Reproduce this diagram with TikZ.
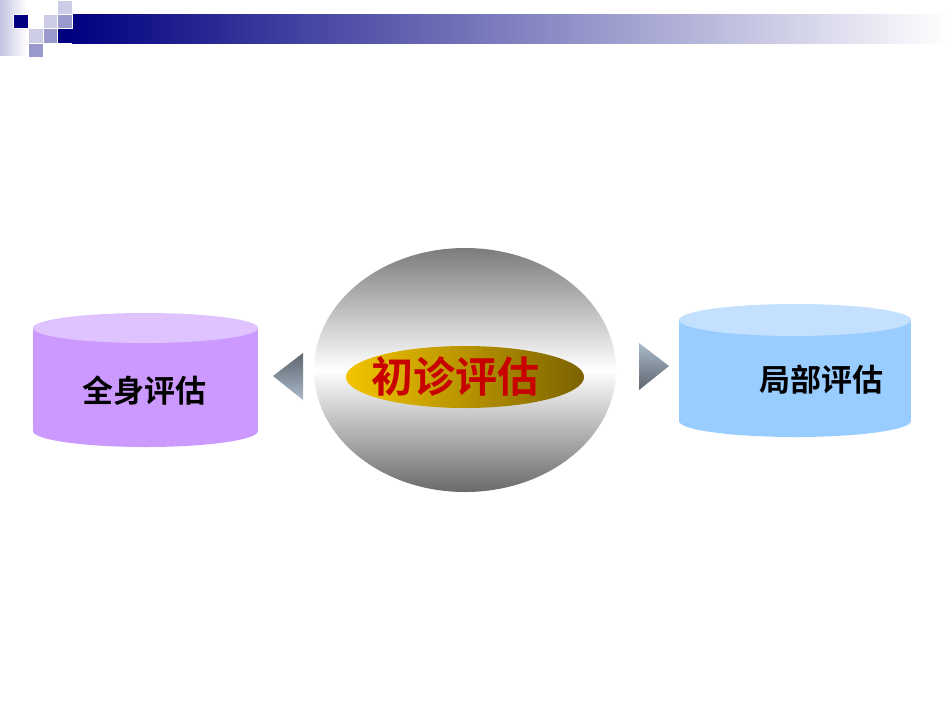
\documentclass[tikz,border=0pt]{standalone}
\usepackage{fontspec}
\newfontfamily\cjk{Noto Sans CJK SC}[BoldFont={Noto Sans CJK SC Bold}]
\definecolor{navy}{HTML}{000080}
\definecolor{sqmid}{HTML}{9999CC}
\definecolor{sqlight}{HTML}{CCCCE6}
\definecolor{stripc}{HTML}{C4C4E4}
\definecolor{purpbody}{HTML}{CC99FF}
\definecolor{purptop}{HTML}{DFC3FF}
\definecolor{bluebody}{HTML}{99CCFF}
\definecolor{bluetop}{HTML}{C3E0FF}
\definecolor{graytop}{HTML}{7C7C7C}
\definecolor{graybot}{HTML}{6A6A6A}
\definecolor{goldl}{HTML}{F2C400}
\definecolor{goldr}{HTML}{7C6200}
\definecolor{arrdark}{HTML}{5E656E}
\definecolor{arrlight}{HTML}{AABACA}
\definecolor{txtred}{HTML}{C80000}
\begin{document}
\begin{tikzpicture}[x=1pt,y=-1pt,
  sq/.style={draw=white,line width=0.6pt},
  sidetext/.style={inner sep=0pt,font=\cjk\bfseries\fontsize{31}{36}\selectfont,text=black},
  maintext/.style={inner sep=0pt,font=\cjk\bfseries\fontsize{42}{48}\selectfont,text=txtred}]
\useasboundingbox[fill=white] (0,0) rectangle (950,713);
% header decoration
\shade[left color=stripc,right color=white] (0,0) rectangle (27,55);
\shade[left color=navy,right color=white] (72,14) rectangle (950,43);
\fill[navy] (57,28) rectangle (72,43);
\filldraw[sq,fill=navy] (13,14) rectangle (28,28);
\filldraw[sq,fill=sqlight] (57,0) rectangle (72,14);
\filldraw[sq,fill=sqlight] (43,14) rectangle (57,28);
\filldraw[sq,fill=sqmid] (57,14) rectangle (72,28);
\filldraw[sq,fill=sqlight] (28,28) rectangle (43,43);
\filldraw[sq,fill=sqmid] (43,28) rectangle (57,43);
\filldraw[sq,fill=sqmid] (28,43) rectangle (43,57);
% left cylinder
\fill[purpbody] (33,328) rectangle (258,431);
\fill[purpbody] (145.5,431) ellipse [x radius=112.5pt, y radius=16pt];
\fill[purptop] (145.5,328) ellipse [x radius=112.5pt, y radius=15pt];
% right cylinder
\fill[bluebody] (679,320) rectangle (911,421);
\fill[bluebody] (795,421) ellipse [x radius=116pt, y radius=16pt];
\fill[bluetop] (795,320) ellipse [x radius=116pt, y radius=16pt];
% arrows
\shade[top color=arrdark,bottom color=arrlight] (303,353) -- (273,376) -- (303,400) -- cycle;
\shade[top color=arrlight,bottom color=arrdark] (639,343) -- (669,366) -- (639,390) -- cycle;
% center ellipse
\shade[top color=graytop,bottom color=graybot,middle color=white] (465,370) ellipse [x radius=151pt, y radius=122pt];
\shade[left color=goldl,right color=goldr] (465,377) ellipse [x radius=119pt, y radius=31pt];
% texts
\node[sidetext] (whole) at (144,391) {全身评估};
\node[sidetext] (local) at (821,380) {局部评估};
\node[maintext] (init) at (455,376) {初诊评估};
\end{tikzpicture}
\end{document}
